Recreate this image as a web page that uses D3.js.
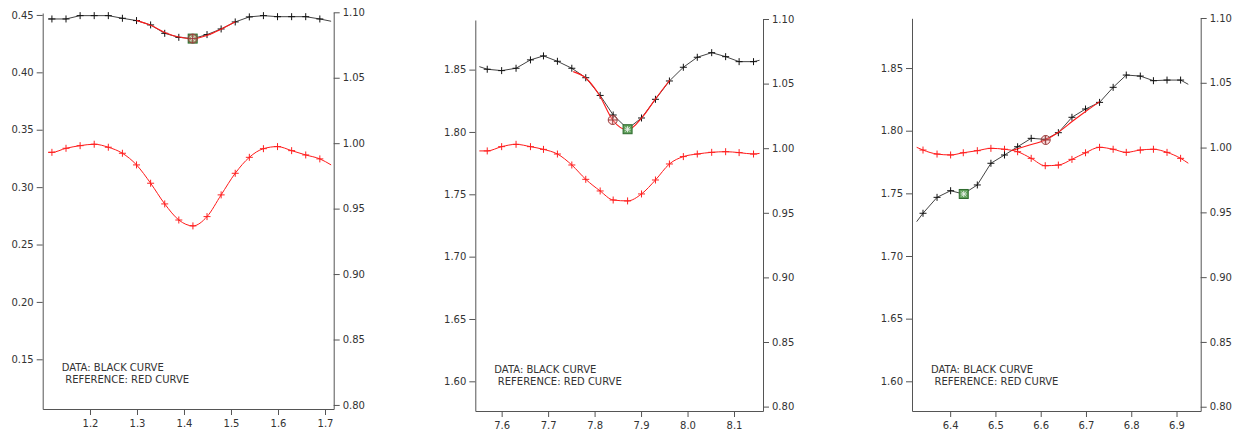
<!DOCTYPE html>
<html><head><meta charset="utf-8">
<script src="https://cdn.jsdelivr.net/npm/d3@7"></script>
<style>
body{margin:0;background:#fff}
svg{display:block}
text{font-family:"DejaVu Sans",sans-serif;}
</style>
</head><body>
<svg id="c" width="1239" height="438"></svg>
<script>
// ---------- DATA ----------
// Panel 1 (first & last entries are line-only end points, no marker)
const p1X     = [1.111,1.119,1.149,1.179,1.209,1.239,1.269,1.299,1.329,1.359,1.389,1.419,1.449,1.479,1.509,1.539,1.569,1.599,1.629,1.659,1.689,1.713];
const p1Black = [0.4465,0.4465,0.4465,0.4494,0.4494,0.4494,0.4471,0.4451,0.4413,0.4340,0.4305,0.4294,0.4329,0.4378,0.4439,0.4483,0.4494,0.4485,0.4485,0.4485,0.4465,0.4445];
const p1Red   = [0.9930,0.9930,0.9961,0.9981,0.9992,0.9969,0.9923,0.9834,0.9694,0.9536,0.9413,0.9368,0.9439,0.9605,0.9770,0.9892,0.9958,0.9974,0.9943,0.9910,0.9880,0.9834];
const p1FitX  = [1.299,1.329,1.359,1.389,1.419,1.449,1.479,1.509];
const p1FitY  = [0.4453,0.4410,0.4348,0.4308,0.4293,0.4322,0.4376,0.4440];
const p1Square = [1.4185,0.4294];
const p1Circle = [1.4185,0.4294];
const p1XTicks = [1.2,1.3,1.4,1.5,1.6,1.7];
const p1LeftTicks = [0.15,0.20,0.25,0.30,0.35,0.40,0.45];

// Panel 2
const p2X     = [7.552,7.569,7.600,7.631,7.662,7.690,7.720,7.751,7.781,7.812,7.840,7.871,7.901,7.931,7.961,7.991,8.021,8.052,8.082,8.111,8.142,8.155];
const p2Black = [1.8524,1.8503,1.8492,1.8511,1.8578,1.8610,1.8567,1.8511,1.8435,1.8293,1.8136,1.8025,1.8112,1.8262,1.8409,1.8519,1.8599,1.8636,1.8604,1.8564,1.8564,1.8575];
const p2Red   = [0.9979,0.9979,1.0012,1.0030,1.0012,0.9991,0.9955,0.9870,0.9759,0.9669,0.9599,0.9592,0.9646,0.9754,0.9878,0.9935,0.9955,0.9968,0.9973,0.9966,0.9955,0.9960];
const p2FitX  = [7.754,7.781,7.810,7.839,7.871,7.903,7.931,7.962];
const p2FitY  = [1.8484,1.8433,1.8297,1.8096,1.8016,1.8120,1.8265,1.8417];
const p2Square = [7.871,1.8022];
const p2Circle = [7.839,1.8096];
const p2XTicks = [7.6,7.7,7.8,7.9,8.0,8.1];
const p2LeftTicks = [1.60,1.65,1.70,1.75,1.80,1.85];

// Panel 3
const p3X     = [6.326,6.340,6.371,6.401,6.429,6.460,6.490,6.520,6.549,6.579,6.610,6.639,6.669,6.699,6.730,6.760,6.789,6.820,6.849,6.879,6.909,6.926];
const p3Black = [1.7274,1.7341,1.7468,1.7521,1.7495,1.7567,1.7740,1.7806,1.7872,1.7939,1.7931,1.7984,1.8107,1.8173,1.8226,1.8346,1.8444,1.8436,1.8399,1.8404,1.8404,1.8370];
const p3Red   = [1.0002,0.9981,0.9950,0.9943,0.9960,0.9976,0.9994,0.9987,0.9968,0.9917,0.9860,0.9865,0.9909,0.9960,1.0002,0.9987,0.9963,0.9981,0.9987,0.9963,0.9917,0.9879];
const p3FitX  = [6.535,6.570,6.610,6.640,6.670,6.700,6.730];
const p3FitY  = [1.7840,1.7880,1.7926,1.7990,1.8075,1.8155,1.8232];
const p3Square = [6.430,1.7495];
const p3Circle = [6.611,1.7926];
const p3XTicks = [6.4,6.5,6.6,6.7,6.8,6.9];
const p3LeftTicks = [1.60,1.65,1.70,1.75,1.80,1.85];

const rightTicks = [0.80,0.85,0.90,0.95,1.00,1.05,1.10];
const legendLines = ["DATA: BLACK CURVE","REFERENCE: RED CURVE"];

// ---------- LAYOUT ----------
const panels = [
  {xs:p1X, black:p1Black, red:p1Red, fitX:p1FitX, fitY:p1FitY, sq:p1Square, circ:p1Circle,
   xTicks:p1XTicks, lTicks:p1LeftTicks,
   left:42.7, right:333.7, bottom:409, lTop:13, rTop:12.3,
   xDom:[1.0994,1.7185], lDom:[0.1067,0.4517], rDom:[0.7969,1.10]},
  {xs:p2X, black:p2Black, red:p2Red, fitX:p2FitX, fitY:p2FitY, sq:p2Square, circ:p2Circle,
   xTicks:p2XTicks, lTicks:p2LeftTicks,
   left:475.3, right:763, bottom:411, lTop:20, rTop:19,
   xDom:[7.5433,8.1624], lDom:[1.5762,1.8898], rDom:[0.7966,1.10]},
  {xs:p3X, black:p3Black, red:p3Red, fitX:p3FitX, fitY:p3FitY, sq:p3Square, circ:p3Circle,
   xTicks:p3XTicks, lTicks:p3LeftTicks,
   left:912, right:1200.7, bottom:411, lTop:18.3, rTop:18,
   xDom:[6.3157,6.9534], lDom:[1.5763,1.8897], rDom:[0.7967,1.10]}
];

const svg = d3.select("#c");
const axisColor = "#555";
const textColor = "#333";

function plus(g, x, y, color, s) {
  g.append("line").attr("x1",x-s).attr("x2",x+s).attr("y1",y).attr("y2",y).attr("stroke",color).attr("stroke-width",1);
  g.append("line").attr("x1",x).attr("x2",x).attr("y1",y-s).attr("y2",y+s).attr("stroke",color).attr("stroke-width",1);
}

panels.forEach(p => {
  const x = d3.scaleLinear().domain(p.xDom).range([p.left, p.right]);
  const yl = d3.scaleLinear().domain(p.lDom).range([p.bottom, p.lTop]);
  const yr = d3.scaleLinear().domain(p.rDom).range([p.bottom, p.rTop]);

  const styleAxis = g => {
    g.selectAll("path.domain").attr("stroke", axisColor);
    g.selectAll(".tick line").attr("stroke", axisColor);
    g.selectAll(".tick text").attr("fill", textColor).attr("font-size", 10).attr("font-family","DejaVu Sans");
  };

  svg.append("g").attr("transform",`translate(0,${p.bottom})`)
    .call(d3.axisBottom(x).tickValues(p.xTicks).tickFormat(d3.format(".1f")).tickSize(6).tickSizeOuter(0).tickPadding(5))
    .call(styleAxis);
  svg.append("g").attr("transform",`translate(${p.left},0)`)
    .call(d3.axisLeft(yl).tickValues(p.lTicks).tickFormat(d3.format(".2f")).tickSize(6).tickSizeOuter(0).tickPadding(3))
    .call(styleAxis);
  svg.append("g").attr("transform",`translate(${p.right},0)`)
    .call(d3.axisRight(yr).tickValues(rightTicks).tickFormat(d3.format(".2f")).tickSize(6).tickSizeOuter(0).tickPadding(3))
    .call(styleAxis);

  const n = p.xs.length;
  // reference (red) curve on right axis
  const redPts = p.xs.map((v,i)=>[x(v), yr(p.red[i])]);
  svg.append("path").attr("d", d3.line().curve(d3.curveMonotoneX)(redPts))
    .attr("fill","none").attr("stroke","#ff1a1a").attr("stroke-width",1);
  const gr = svg.append("g");
  redPts.forEach((pt,i)=>{ if(i>0 && i<n-1) plus(gr, pt[0], pt[1], "#ff2020", 3.5); });

  // data (black) curve on left axis
  const blkPts = p.xs.map((v,i)=>[x(v), yl(p.black[i])]);
  svg.append("path").attr("d", d3.line()(blkPts))
    .attr("fill","none").attr("stroke","#444").attr("stroke-width",1);
  const gb = svg.append("g");
  blkPts.forEach((pt,i)=>{ if(i>0 && i<n-1) plus(gb, pt[0], pt[1], "#111", 3.5); });

  // fit curve (red) over data
  const fitPts = p.fitX.map((v,i)=>[x(v), yl(p.fitY[i])]);
  svg.append("path").attr("d", d3.line().curve(d3.curveMonotoneX)(fitPts))
    .attr("fill","none").attr("stroke","#ff1a1a").attr("stroke-width",1.1);

  // green square marker
  const sx = x(p.sq[0]), sy = yl(p.sq[1]);
  const gs = svg.append("g");
  gs.append("rect").attr("x",sx-4.5).attr("y",sy-4.5).attr("width",9).attr("height",9)
    .attr("fill","#5f9f5a").attr("stroke","#2d6a2d").attr("stroke-width",1);
  plus(gs, sx, sy, "#e8f0e8", 3);
  gs.append("line").attr("x1",sx-2.5).attr("x2",sx+2.5).attr("y1",sy-2.5).attr("y2",sy+2.5).attr("stroke","#e8f0e8");
  gs.append("line").attr("x1",sx-2.5).attr("x2",sx+2.5).attr("y1",sy+2.5).attr("y2",sy-2.5).attr("stroke","#e8f0e8");

  // circle marker
  const cx = x(p.circ[0]), cy = yl(p.circ[1]);
  const gc = svg.append("g");
  gc.append("circle").attr("cx",cx).attr("cy",cy).attr("r",4.5)
    .attr("fill","rgba(255,170,170,0.35)").attr("stroke","#9b3a3a").attr("stroke-width",1);
  plus(gc, cx, cy, "#9b3a3a", 4.5);

  // legend text
  svg.append("text").attr("x",p.left+19).attr("y",p.bottom-38).attr("fill",textColor)
    .attr("font-size",10).text(legendLines[0]);
  svg.append("text").attr("x",p.left+22.5).attr("y",p.bottom-26).attr("fill",textColor)
    .attr("font-size",10).text(legendLines[1]);
});
</script>
</body></html>
